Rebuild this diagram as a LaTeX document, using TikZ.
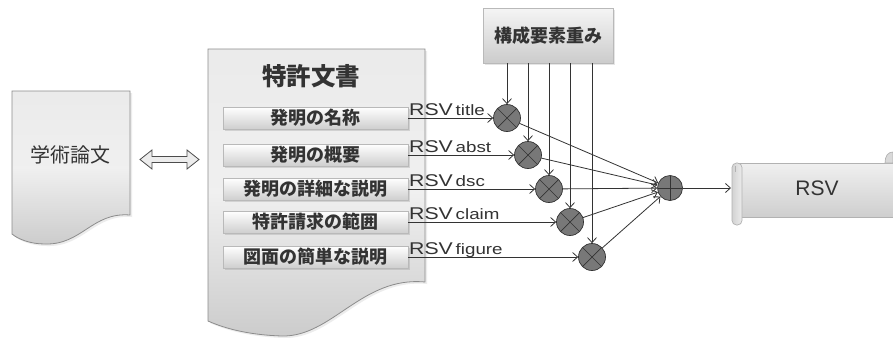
\documentclass[tikz,border=0pt]{standalone}
\usepackage{fontspec}
\newfontfamily\jp{Noto Sans CJK JP}
\newfontfamily\latw[FakeStretch=1.25]{Liberation Sans}
\newfontfamily\latn{Liberation Sans}
\usetikzlibrary{arrows.meta,calc,shadows}
\definecolor{ink}{HTML}{333333}
\definecolor{edge}{HTML}{8C8C8C}
\tikzset{
  docshape/.style={draw=edge, line width=0.8pt, top color=gray!16, bottom color=gray!40, middle color=gray!12,
    drop shadow={opacity=0.15, shadow xshift=2pt, shadow yshift=-2pt}},
  btn/.style={draw=gray!55, line width=0.5pt, top color=white, bottom color=gray!38, minimum width=185pt,
    minimum height=22pt, inner sep=0pt, font=\jp\bfseries\fontsize{18}{19}\selectfont, text=ink,
    drop shadow={opacity=0.25, shadow xshift=1.5pt, shadow yshift=-1.5pt}},
  mult/.style={circle, draw=ink, line width=0.7pt, fill=gray!75!black!85, minimum size=27pt, inner sep=0pt,
    path picture={\draw[ink, line width=0.7pt] (path picture bounding box.north west) -- (path picture bounding box.south east)
      (path picture bounding box.north east) -- (path picture bounding box.south west);}},
  sumc/.style={circle, draw=ink, line width=0.7pt, fill=gray!75!black!85, minimum size=25pt, inner sep=0pt,
    path picture={\draw[ink, line width=0.7pt] (path picture bounding box.north) -- (path picture bounding box.south)
      (path picture bounding box.west) -- (path picture bounding box.east);}},
  conn/.style={draw=ink, line width=0.8pt, -{Straight Barb[length=5pt,width=9pt]}},
  rsvlab/.style={anchor=base west, inner sep=0pt, text=ink},
}
\begin{document}
\begin{tikzpicture}[x=1pt,y=-1pt]
\useasboundingbox (0,0) rectangle (893,338);
\fill[white] (0,0) rectangle (893,338);

% left document
\path[docshape] (12,91) -- (130,91) -- (130,215) .. controls (92,212) and (82,245) .. (45,244)
   .. controls (30,244) and (18,239) .. (12,234) -- cycle;
\node[font=\jp\fontsize{20}{22}\selectfont, text=ink] (paper) at (70,155) {学術論文};

% double arrow
\path[draw=gray!60!black, line width=0.8pt, fill=gray!15]
  (140,159.5) -- (152,150) -- (152,156.5) -- (187,156.5) -- (187,150) -- (199,159.5)
  -- (187,169) -- (187,162.5) -- (152,162.5) -- (152,169) -- cycle;

% patent document
\path[docshape] (208,49) -- (425,49) -- (425,282) .. controls (362,276) and (332,337) .. (282,336)
   .. controls (250,335) and (226,329) .. (208,321) -- cycle;
\node[font=\jp\bfseries\fontsize{24.5}{26}\selectfont, text=ink] (patent) at (311,76) {特許文書};

\node[btn] (b1) at (315.5,118) {発明の名称};
\node[btn] (b2) at (315.5,155) {発明の概要};
\node[btn] (b3) at (315.5,189) {発明の詳細な説明};
\node[btn] (b4) at (315.5,222) {特許請求の範囲};
\node[btn] (b5) at (315.5,257) {図面の簡単な説明};

% weight box
\node[draw=gray!55, line width=0.6pt, top color=gray!8, bottom color=gray!40, minimum width=130pt, minimum height=55pt,
  font=\jp\bfseries\fontsize{18}{20}\selectfont, text=ink,
  drop shadow={opacity=0.2, shadow xshift=1.5pt, shadow yshift=-1.5pt}] (w) at (548,35.5) {構成要素重み};

% multipliers
\node[mult] (c1) at (507,118) {};
\node[mult] (c2) at (528,155) {};
\node[mult] (c3) at (549,189) {};
\node[mult] (c4) at (570,222) {};
\node[mult] (c5) at (592,257) {};
\node[sumc] (s) at (670,188) {};

% RSV labels
\node[rsvlab] (l1) at (409,115) {\latw\fontsize{17}{19}\selectfont RSV\,\fontsize{15}{17}\selectfont title};
\node[rsvlab] (l2) at (409,152) {\latw\fontsize{17}{19}\selectfont RSV\,\fontsize{15}{17}\selectfont abst};
\node[rsvlab] (l3) at (409,186) {\latw\fontsize{17}{19}\selectfont RSV\,\fontsize{15}{17}\selectfont dsc};
\node[rsvlab] (l4) at (409,219) {\latw\fontsize{17}{19}\selectfont RSV\,\fontsize{15}{17}\selectfont claim};
\node[rsvlab] (l5) at (409,254) {\latw\fontsize{17}{19}\selectfont RSV\,\fontsize{15}{17}\selectfont figure};

% inputs
\foreach \i in {1,...,5}{
  \draw[conn] (b\i.east) -- (c\i);
  \draw[conn] (w.south -| c\i) -- (c\i);
  \draw[conn] (c\i) -- (s);
}

% output scroll
\path[draw=gray!60, line width=0.7pt, top color=gray!12, bottom color=gray!38]
  (737,163) -- (893,163) -- (893,217) -- (737,217) -- cycle;
\path[draw=gray!60, line width=0.7pt, fill=gray!30]
  (885,163) .. controls (885,156) and (888,152) .. (893,152) -- (893,163) -- cycle;
\path[draw=gray!60, line width=0.7pt, left color=gray!35, right color=gray!15, rounded corners=4.5pt]
  (732,163) rectangle (742,225);
\draw[gray!60, line width=0.5pt] (735,166) -- (735,172);
\node[font=\latn\fontsize{21}{23}\selectfont, text=ink] (out) at (817,188) {RSV};
\coordinate (outin) at (731,188);
\draw[conn] (s) -- (outin);
\end{tikzpicture}
\end{document}
